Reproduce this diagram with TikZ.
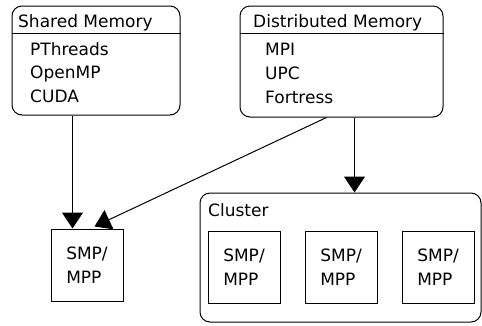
\documentclass[tikz,border=0pt]{standalone}
\usepackage{fontspec}
\setmainfont{DejaVu Sans}
\usetikzlibrary{arrows.meta,calc}
\tikzset{
  rbox/.style={draw, line width=1pt, rounded corners=10pt, inner sep=0pt},
  sbox/.style={draw, line width=1pt, inner sep=0pt, minimum width=72pt, minimum height=72pt,
    align=left, font=\fontsize{17}{24.5}\selectfont},
  txt/.style={anchor=base west, inner sep=0pt, font=\fontsize{17}{20}\selectfont},
  arr/.style={line width=1pt, -{Triangle[width=21pt,length=16pt]}},
  sep/.style={line width=1pt}
}
\begin{document}
\begin{tikzpicture}[x=1pt,y=-1pt]
\useasboundingbox (0,0) rectangle (482,325);
% Shared Memory
\node[rbox, minimum width=168pt, minimum height=109pt] (sm) at (96,60.5) {};
\draw[sep] (sm.west |- 0,33) -- (sm.east |- 0,33);
\node[txt] (smh) at (18,27) {Shared Memory};
\node[txt] (sm1) at (30,55) {PThreads};
\node[txt] (sm2) at (30,78.5) {OpenMP};
\node[txt] (sm3) at (30,102) {CUDA};
% Distributed Memory
\node[rbox, minimum width=203pt, minimum height=111pt] (dm) at (341.5,61.5) {};
\draw[sep] (dm.west |- 0,33) -- (dm.east |- 0,33);
\node[txt] (dmh) at (253,27) {Distributed Memory};
\node[txt] (dm1) at (265,55) {MPI};
\node[txt] (dm2) at (265,79) {UPC};
\node[txt] (dm3) at (265,103) {Fortress};
% lone SMP/MPP
\node[sbox] (lsmp) at (87,265) {SMP/\\MPP};
% Cluster
\node[rbox, minimum width=281pt, minimum height=129pt] (cl) at (340.5,257.5) {};
\node[txt] (clh) at (208,216) {Cluster};
\node[sbox] (c1) at (244,267) {SMP/\\MPP};
\node[sbox] (c2) at (341,267) {SMP/\\MPP};
\node[sbox] (c3) at (438,267) {SMP/\\MPP};
% connectors
\coordinate (a1) at ($(sm.south west)+(61,0)$);
\draw[arr] (a1) -- (a1 |- lsmp.north);
\coordinate (a2) at ($(dm.south west)+(87,0)$);
\coordinate (a2e) at ($(lsmp.north west)+(44,-2)$);
\draw[arr] (a2) -- (a2e);
\coordinate (a3) at ($(cl.north west)+(155,0)$);
\draw[arr] (a3 |- dm.south) -- (a3);
\end{tikzpicture}
\end{document}
